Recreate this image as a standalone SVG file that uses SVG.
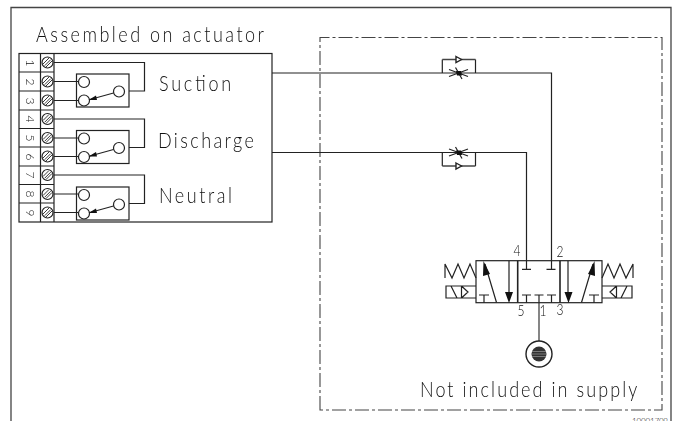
<svg xmlns="http://www.w3.org/2000/svg" width="675" height="421" viewBox="0 0 675 421">
<defs>
<filter id="gray" x="-10%" y="-50%" width="120%" height="200%" color-interpolation-filters="sRGB"><feOffset dx="0" dy="0"/></filter>
<style>
.l{fill:none;stroke:#222;stroke-width:1.2}
.g{fill:none;stroke:#444;stroke-width:1.3}
.c{fill:#fff;stroke:#222;stroke-width:1.2}
.f{fill:#111;stroke:none}
.t{font-family:"Lato","Liberation Sans",sans-serif;font-weight:300;fill:#111}
.lab{font-size:22px}
.n{font-size:15px;text-anchor:middle}
.tn{font-size:12px;text-anchor:middle}
</style>
<g id="screw"><circle class="c" cx="0" cy="0" r="5.5"/><path d="M-4.500,1.500L1.500,-4.500M-2.800,3.200L3.200,-2.800M-1.500,4.500L4.500,-1.500" fill="none" stroke="#222" stroke-width="0.9"/></g>
<g id="sw"><rect class="l" x="76.5" y="0" width="52.5" height="33"/><circle class="c" cx="84" cy="8" r="5.5"/><circle class="c" cx="84" cy="26.5" r="5.5"/><circle class="c" cx="119" cy="17.5" r="5.5"/><path class="l" d="M113.5,19L90,25.5"/><path class="f" d="M88.5,26L96,21.5L97,26Z"/></g>
<g id="fc"><path class="l" d="M449,-3.500L468,3.500M449,3.500L468,-3.500M455.500,-5.500L462,6"/><path class="f" d="M456,-2L461,-2L462,2.500L457,2.500Z"/></g>
<g id="chk"><path class="g" d="M442.3,0H475.5"/><path d="M456,-3L461.500,0L456,3Z" fill="#fff" stroke="#222" stroke-width="1.4"/></g>
</defs>
<path class="g" d="M11,421V7.5H671V421"/>
<path fill="none" stroke="#444" stroke-width="1.1" stroke-dasharray="14 3 3 3" d="M320,410V37.5H662V410Z"/>
<g id="connectors">
<path class="l" d="M272,73H551.5V264"/>
<path class="l" d="M272,152.5H526.5V264"/>
<path class="l" d="M442.3,73V59.5M475.5,73V59.5M442.3,152.5V166M475.5,152.5V166"/>
<path class="l" d="M54,62.5H144.5V91H129M54,81.5H78.5M54,100.5H78.5"/>
<path class="l" d="M54,119H144.5V147.5H129M54,138H78.5M54,156.5H78.5"/>
<path class="l" d="M54,175H144.5V203.5H129M54,194H78.5M54,212.5H78.5"/>
<path class="g" d="M539,303V341"/>
</g>
<g id="actuator">
<rect class="l" x="19" y="53.5" width="253" height="168.5"/>
<path class="l" d="M40.5,53.5V222M54,53.5V222M19,72H54M19,91H54M19,110H54M19,128.5H54M19,147H54M19,166H54M19,184.5H54M19,203H54"/>
<g filter="url(#gray)">
<text class="t lab" transform="translate(36,42) scale(.82,1)" textLength="278">Assembled on actuator</text>
<text class="t lab" transform="translate(159,91) scale(.82,1)" textLength="88">Suction</text>
<text class="t lab" transform="translate(158,148) scale(.82,1)" textLength="117">Discharge</text>
<text class="t lab" transform="translate(159,203) scale(.82,1)" textLength="89">Neutral</text>
</g>
</g>
<g id="terminals">
<use href="#screw" x="47.5" y="62.5"/><use href="#screw" x="47.5" y="81.5"/><use href="#screw" x="47.5" y="100.5"/>
<use href="#screw" x="47.5" y="119"/><use href="#screw" x="47.5" y="138"/><use href="#screw" x="47.5" y="156.5"/>
<use href="#screw" x="47.5" y="175"/><use href="#screw" x="47.5" y="194"/><use href="#screw" x="47.5" y="212.5"/>
<g filter="url(#gray)">
<text class="t tn" transform="translate(25.500,63) rotate(90)">1</text>
<text class="t tn" transform="translate(25.500,82) rotate(90)">2</text>
<text class="t tn" transform="translate(25.500,101) rotate(90)">3</text>
<text class="t tn" transform="translate(25.500,119) rotate(90)">4</text>
<text class="t tn" transform="translate(25.500,138) rotate(90)">5</text>
<text class="t tn" transform="translate(25.500,157) rotate(90)">6</text>
<text class="t tn" transform="translate(25.500,175) rotate(90)">7</text>
<text class="t tn" transform="translate(25.500,194) rotate(90)">8</text>
<text class="t tn" transform="translate(25.500,213) rotate(90)">9</text>
</g>
</g>
<g id="switch-suction"><use href="#sw" y="74"/></g>
<g id="switch-discharge"><use href="#sw" y="130.5"/></g>
<g id="switch-neutral"><use href="#sw" y="187"/></g>
<g id="flow-top"><use href="#chk" y="59.5"/><use href="#fc" y="73"/></g>
<g id="flow-bottom"><use href="#chk" y="166"/><use href="#fc" y="152.5"/></g>
<g id="valve">
<rect class="l" x="476" y="260.7" width="126" height="42"/>
<path d="M517.7,260.7V302.7M560,260.7V302.7" fill="none" stroke="#222" stroke-width="1.6"/>
<path class="l" d="M522,269.3H531M546.5,269.3H555.5M526.5,264V269.3M551.5,264V269.3"/>
<path class="l" d="M522,295H531M534.5,295H543.5M547,295H556M526.5,295V302.7M539,295V302.7M551.5,295V302.7"/>
<path class="l" d="M479,295H489M484,295V302.7M589,295H599M594,295V302.7"/>
<path class="l" d="M496.5,302.5L485,264M581.5,302.5L593,264M509,261V295M568,261V295"/>
<path class="f" d="M483.5,261L490,274L483,276ZM594.5,261L588,274L595,276ZM509,303L505,292H513ZM568.5,303L564.5,292H572.500Z"/>
<path class="l" d="M445,278V264L452,278L458,264L464,278L470,264L476,278"/>
<path class="l" d="M633,278V264L626,278L620,264L614,278L608,264L602,278"/>
<path class="l" d="M476,286H446V298H476M461.5,286V298M451,286L457,298M461.500,286L468,292L461.500,298"/>
<path class="l" d="M602,286H632V298H602M616.500,286V298M627,286L621,298M616.500,286L610,292L616.500,298"/>
<g filter="url(#gray)">
<text class="t n" transform="translate(517,256) scale(.8,1)">4</text>
<text class="t n" transform="translate(560,257) scale(.8,1)">2</text>
<text class="t n" transform="translate(521,316) scale(.8,1)">5</text>
<text class="t n" transform="translate(543,316) scale(.8,1)">1</text>
<text class="t n" transform="translate(560,315) scale(.8,1)">3</text>
</g>
</g>
<g id="source">
<circle cx="539" cy="354" r="13" fill="#fff" stroke="#222" stroke-width="1.4"/>
<circle cx="539" cy="354" r="7.500" fill="#333"/>
<path d="M532,351.500H546M531.500,354H546.500M532,356.500H546" stroke="#999" stroke-width="0.7" fill="none"/>
</g>
<g filter="url(#gray)">
<text class="t lab" transform="translate(420,397) scale(.82,1)" textLength="265">Not included in supply</text>
</g>
<text class="t" x="632" y="424" font-size="8" textLength="36">10001709</text>
</svg>
